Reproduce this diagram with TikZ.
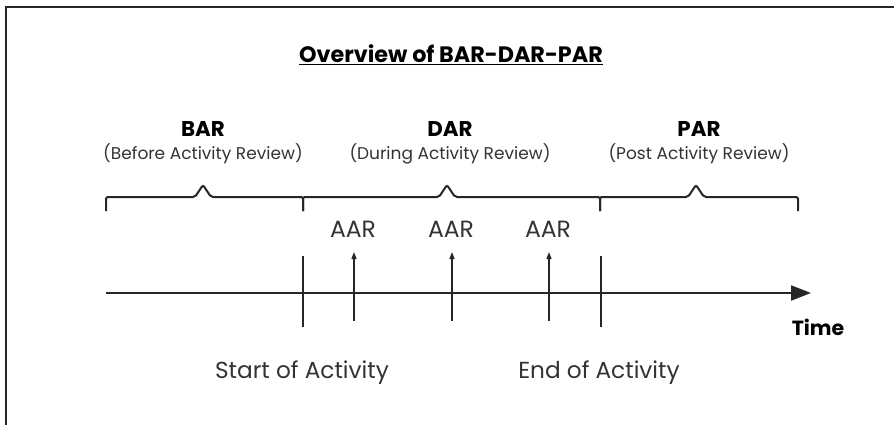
\documentclass[tikz,border=0pt]{standalone}
\usepackage{fontspec}
\setmainfont{Poppins}
\usetikzlibrary{arrows.meta}
\begin{document}
\begin{tikzpicture}[x=1pt,y=-1pt,
  ink/.style={draw=black!85},
  frameline/.style={ink,line width=2pt},
  bracepath/.style={ink,line width=2pt,rounded corners=2pt},
  axis/.style={ink,line width=2pt,-{Triangle[length=20pt,width=15pt]}},
  tick/.style={ink,line width=2.2pt},
  aararrow/.style={ink,line width=1.2pt,-{Triangle[length=7pt,width=5pt]}},
  titletext/.style={anchor=base,font=\fontsize{22.3}{26}\selectfont\bfseries},
  headtext/.style={anchor=base,font=\fontsize{21.4}{24}\selectfont\bfseries},
  subtext/.style={anchor=base,font=\fontsize{17}{20}\selectfont,text=black!80},
  aartext/.style={anchor=base,font=\fontsize{23.5}{26}\selectfont,text=black!80},
  eventtext/.style={anchor=base,font=\fontsize{23.2}{26}\selectfont,text=black!80},
  timetext/.style={anchor=base,font=\fontsize{20.5}{24}\selectfont\bfseries}
]
\useasboundingbox (0,0) rectangle (894,425);
% frame
\coordinate (fbl) at (6,425);
\coordinate (ftl) at (6,7);
\coordinate (ftr) at (894,7);
\draw[frameline] (fbl) -- (ftl) -- (ftr);
% title
\node[titletext] (title) at (451,63) {\underline{Overview of BAR-DAR-PAR}};
% headings
\node[headtext] (bar) at (203,137) {BAR};
\node[subtext] (barsub) at (203,160) {(Before Activity Review)};
\node[headtext] (dar) at (450,137) {DAR};
\node[subtext] (darsub) at (450,160) {(During Activity Review)};
\node[headtext] (par) at (699,137) {PAR};
\node[subtext] (parsub) at (699,160) {(Post Activity Review)};
% braces
\draw[bracepath] (106,211) -- (106,197) -- (195,197) -- (203,185) -- (211,197) -- (303,197) -- (303,211);
\draw[bracepath] (303,211) -- (303,197) -- (439,197) -- (447,185) -- (455,197) -- (600,197) -- (600,211);
\draw[bracepath] (600,211) -- (600,197) -- (688,197) -- (696,185) -- (704,197) -- (798,197) -- (798,211);
% AAR labels
\node[aartext] (aar1) at (353,237) {AAR};
\node[aartext] (aar2) at (451,237) {AAR};
\node[aartext] (aar3) at (548,237) {AAR};
% time axis
\coordinate (axstart) at (106,293);
\coordinate (axend) at (811,293);
\draw[axis] (axstart) -- (axend);
% ticks
\coordinate (s1) at (303,256);
\coordinate (s2) at (303,327);
\coordinate (e1) at (601,256);
\coordinate (e2) at (601,327);
\draw[tick] (s1) -- (s2);
\draw[tick] (e1) -- (e2);
% AAR arrows
\coordinate (a1b) at (354,321);
\coordinate (a1t) at (354,252);
\coordinate (a2b) at (452,321);
\coordinate (a2t) at (452,252);
\coordinate (a3b) at (549,321);
\coordinate (a3t) at (549,252);
\draw[aararrow] (a1b) -- (a1t);
\draw[aararrow] (a2b) -- (a2t);
\draw[aararrow] (a3b) -- (a3t);
% labels
\node[timetext] (time) at (818,335) {Time};
\node[eventtext] (start) at (302,378) {Start of Activity};
\node[eventtext] (end) at (599,378) {End of Activity};
\end{tikzpicture}
\end{document}
